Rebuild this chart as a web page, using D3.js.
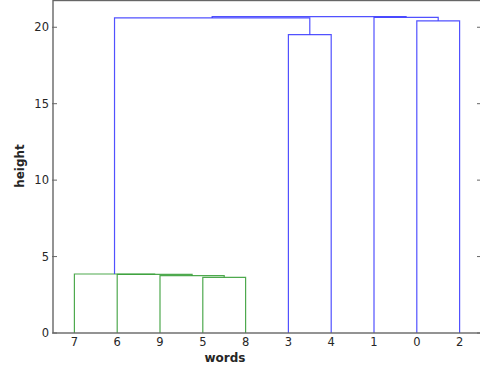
<!DOCTYPE html>
<html>
<head>
<meta charset="utf-8">
<script src="https://cdn.jsdelivr.net/npm/d3@7"></script>
<style>
  body { margin: 0; background: #fff; }
  text { font-family: "DejaVu Sans", sans-serif; fill: #262626; }
</style>
</head>
<body>
<div id="chart"></div>
<script>
// leaf labels in the order they sit along the x axis
var leafOrder = ["7", "6", "9", "5", "8", "3", "4", "1", "0", "2"];

// merges, linkage style: ids below 10 are leaves, 10+ are earlier merges
var mergeLeft   = [5, 9, 6, 7, 3, 0, 13, 1, 16];
var mergeRight  = [8, 10, 11, 12, 4, 2, 14, 15, 17];
var mergeHeight = [3.64, 3.75, 3.84, 3.86, 19.52, 20.42, 20.61, 20.65, 20.70];

var yTicks = [0, 5, 10, 15, 20];
var colorThreshold = 14.5;

var W = 480, H = 371;
var margin = {top: 0.5, right: -1, bottom: 38, left: 53};
var width = W - margin.left - margin.right,
    height = H - margin.top - margin.bottom;

var svg = d3.select("#chart").append("svg")
    .attr("width", W)
    .attr("height", H);

var g = svg.append("g")
    .attr("transform", "translate(" + margin.left + "," + margin.top + ")");

var x = d3.scaleLinear().domain([0, leafOrder.length * 10]).range([0, width]);
var y = d3.scaleLinear().domain([0, 21.75]).range([height, 0]);

// position of each node (leaf or cluster) in dendrogram coords
var n = leafOrder.length;
var nodeX = {}, nodeH = {};
leafOrder.forEach(function (lab, i) {
  nodeX[+lab] = 5 + 10 * i;
  nodeH[+lab] = 0;
});
var links = [];
mergeLeft.forEach(function (a, k) {
  var b = mergeRight[k], h = mergeHeight[k];
  links.push({x1: nodeX[a], y1: nodeH[a], x2: nodeX[b], y2: nodeH[b], h: h});
  nodeX[n + k] = (nodeX[a] + nodeX[b]) / 2;
  nodeH[n + k] = h;
});

g.append("g").selectAll("path")
  .data(links)
  .enter()
  .append("path")
    .attr("d", function (d) {
      return "M" + x(d.x1) + "," + y(d.y1) +
             "V" + y(d.h) + "H" + x(d.x2) + "V" + y(d.y2);
    })
    .attr("fill", "none")
    .attr("stroke", function (d) { return d.h < colorThreshold ? "#2f9a2f" : "#3333ff"; })
    .attr("stroke-opacity", 0.85)
    .attr("stroke-width", 1.2);

// frame
g.append("rect")
  .attr("x", 0).attr("y", 0)
  .attr("width", width).attr("height", height)
  .attr("fill", "none")
  .attr("stroke", "#666")
  .attr("stroke-width", 1.4);

// y ticks, inward on both sides
var yAxis = g.append("g");
yTicks.forEach(function (t) {
  yAxis.append("line")
    .attr("x1", -1).attr("x2", 4)
    .attr("y1", y(t)).attr("y2", y(t))
    .attr("stroke", "#666");
  yAxis.append("line")
    .attr("x1", width - 4).attr("x2", width)
    .attr("y1", y(t)).attr("y2", y(t))
    .attr("stroke", "#666");
  yAxis.append("text")
    .attr("x", -4)
    .attr("y", y(t))
    .attr("dy", "0.36em")
    .attr("text-anchor", "end")
    .style("font-size", "11.5px")
    .text(t);
});

// leaf labels
g.append("g").selectAll("text")
  .data(leafOrder)
  .enter()
  .append("text")
    .attr("x", function (d, i) { return x(5 + 10 * i); })
    .attr("y", height + 12.5)
    .attr("text-anchor", "middle")
    .style("font-size", "11.5px")
    .text(function (d) { return d; });

// axis labels
svg.append("text")
  .attr("x", 225)
  .attr("y", 362)
  .attr("text-anchor", "middle")
  .style("font-size", "12px")
  .style("font-weight", "bold")
  .text("words");

svg.append("text")
  .attr("transform", "translate(24,166) rotate(-90)")
  .attr("text-anchor", "middle")
  .style("font-size", "12px")
  .style("font-weight", "bold")
  .text("height");
</script>
</body>
</html>
